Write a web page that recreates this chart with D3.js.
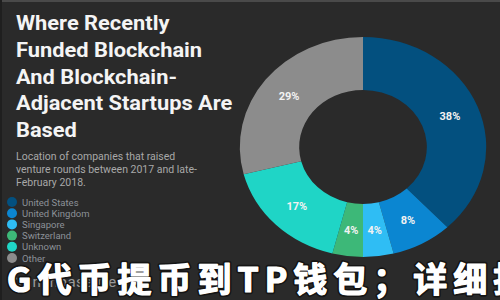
<!DOCTYPE html>
<html>
<head>
<meta charset="utf-8">
<script src="https://cdn.jsdelivr.net/npm/d3@7"></script>
<style>
  html, body { margin: 0; padding: 0; background: #2a2a2a; }
  svg { display: block; }
</style>
</head>
<body>
<svg id="chart" width="500" height="300"></svg>
<script>
const categories = ["United States", "United Kingdom", "Singapore", "Switzerland", "Unknown", "Other"];
const shares = [38, 8, 4, 4, 17, 29];
const title_lines = ["Where Recently", "Funded Blockchain", "And Blockchain-", "Adjacent Startups Are", "Based"];
const subtitle_lines = ["Location of companies that raised", "venture rounds between 2017 and late-", "February 2018."];
const source_text = "Crunchbase News";
const banner_text = "G代币提币到TP钱包；详细指";

window.addEventListener("load", () => {
  let svg = d3.select("#chart"),
    width = +svg.attr("width"),
    height = +svg.attr("height");

  svg.append("rect").attr("width", width).attr("height", height).attr("fill", "#2a2a2a");
  svg.append("rect").attr("width", width).attr("height", 2).attr("fill", "#4a4a4a");
  svg.append("rect").attr("width", 2).attr("height", height).attr("fill", "#1f1f1f");

  const color = d3.scaleOrdinal()
    .domain(categories)
    .range(["#03507f", "#0b86d1", "#2fbdf4", "#3db878", "#1fd5c6", "#8c8c8c"]);

  // donut (the picture is stretched a bit horizontally)
  const cx = 363, cy = 147, sx = 1.12;
  const outer = 110, inner = 57;

  const pie = d3.pie().sort(null).value((d) => d.v);
  const arcs = pie(categories.map((c, i) => ({ c: c, v: shares[i] })));
  const arc = d3.arc().innerRadius(inner).outerRadius(outer);

  let g = svg.append("g").attr("transform", `translate(${cx},${cy}) scale(${sx},1)`);
  g.selectAll("path")
    .data(arcs)
    .enter()
    .append("path")
    .attr("d", arc)
    .attr("fill", (d) => color(d.data.c));

  svg.selectAll("text.pct")
    .data(arcs)
    .enter()
    .append("text")
    .attr("class", "pct")
    .attr("x", (d) => cx + arc.centroid(d)[0] * sx)
    .attr("y", (d) => cy + arc.centroid(d)[1] + 4)
    .attr("text-anchor", "middle")
    .attr("font-family", "Roboto, sans-serif")
    .attr("font-weight", "bold")
    .attr("font-size", 11)
    .attr("fill", "#f2f2f2")
    .text((d) => d.data.v + "%");

  // title, a little wide like the source image
  let title = svg.append("g").attr("transform", "translate(16,0) scale(1.12,1)");
  title.selectAll("text")
    .data(title_lines)
    .enter()
    .append("text")
    .attr("x", 0)
    .attr("y", (s, i) => 30 + i * 26.8)
    .attr("font-family", "Roboto, sans-serif")
    .attr("font-weight", "bold")
    .attr("font-size", 19.5)
    .attr("fill", "#f4f4f4")
    .text((s) => s);

  svg.selectAll("text.sub")
    .data(subtitle_lines)
    .enter()
    .append("text")
    .attr("class", "sub")
    .attr("x", 16)
    .attr("y", (s, i) => 160 + i * 13)
    .attr("font-family", "Roboto, sans-serif")
    .attr("font-size", 10.5)
    .attr("fill", "#a8a8a8")
    .text((s) => s);

  // legend
  let y_scale = d3.scalePoint().domain(categories).range([202, 258]);
  let legend = svg.selectAll("g.leg")
    .data(categories)
    .enter()
    .append("g")
    .attr("class", "leg")
    .attr("transform", (c) => `translate(12,${y_scale(c)})`);
  legend.append("circle").attr("r", 5).attr("fill", (c) => color(c));
  legend.append("text")
    .attr("x", 10)
    .attr("y", 3.5)
    .attr("font-family", "Roboto, sans-serif")
    .attr("font-size", 9.5)
    .attr("fill", "#8c9198")
    .text((c) => c);

  svg.append("text")
    .attr("x", 8)
    .attr("y", 287)
    .attr("font-family", "Roboto, sans-serif")
    .attr("font-size", 15)
    .attr("letter-spacing", 0.5)
    .attr("fill", "#9a9a9a")
    .text(source_text);

  // watermark banner: dark outline first, then a thickened white fill
  const banner = svg.append("g");
  [["#151515", 4.5], ["#ffffff", 1.2]].forEach(([stroke, sw]) => {
    banner.append("text")
      .attr("x", 7)
      .attr("y", 292)
      .attr("font-family", "'Noto Sans CJK SC', sans-serif")
      .attr("font-weight", "bold")
      .attr("font-size", 34)
      .attr("letter-spacing", 6)
      .attr("fill", "#ffffff")
      .attr("stroke", stroke)
      .attr("stroke-width", sw)
      .attr("stroke-linejoin", "round")
      .attr("paint-order", "stroke")
      .text(banner_text);
  });
});
</script>
</body>
</html>
